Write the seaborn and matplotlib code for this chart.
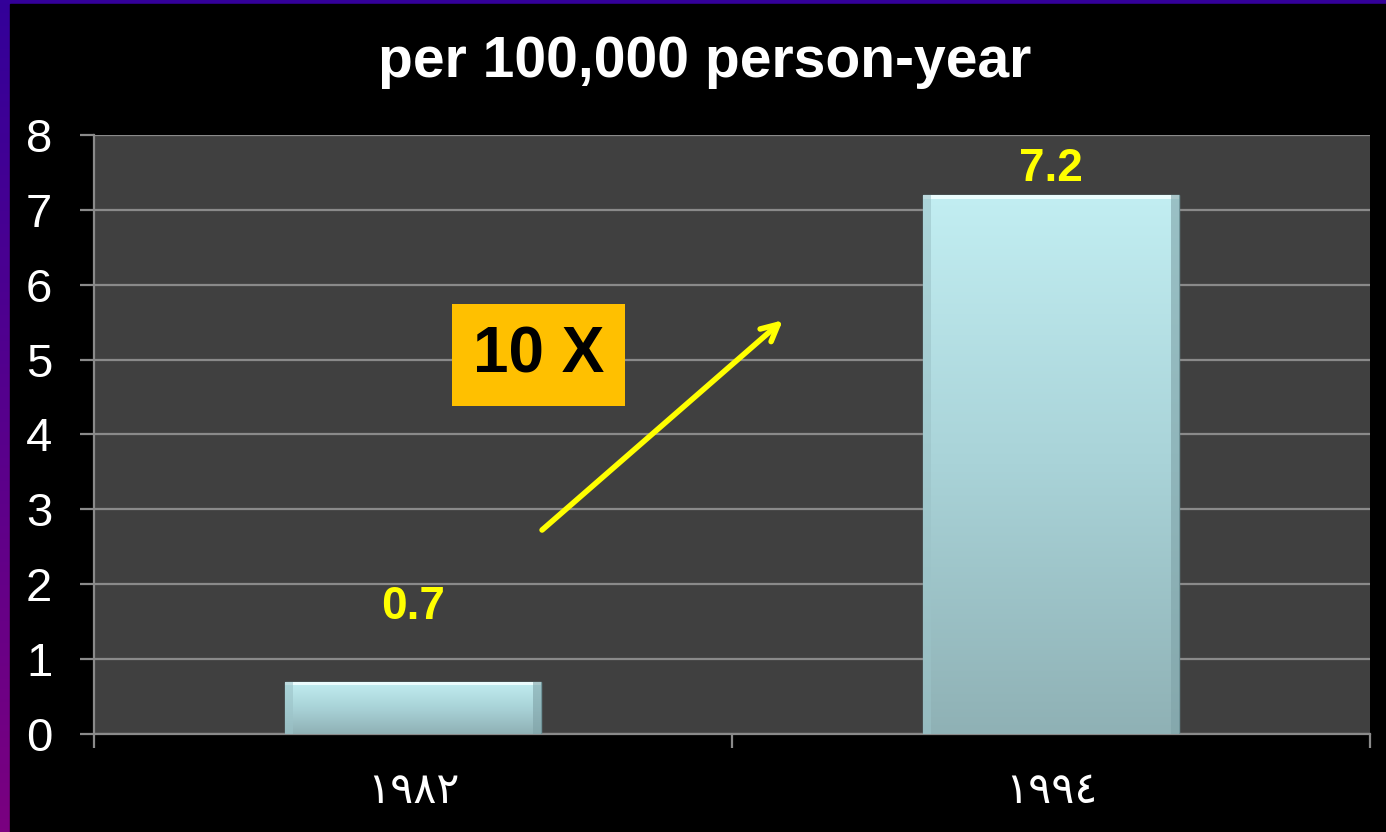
import numpy as np
import matplotlib
matplotlib.use("Agg")
import matplotlib.pyplot as plt
import matplotlib.colors as mcolors
from matplotlib.patches import Rectangle, FancyArrowPatch
import seaborn as sns
import pandas as pd

# ---- data ----
years = ["١٩٨٢", "١٩٩٤"]
rates = [0.7, 7.2]
rate_labels = ["0.7", "7.2"]
y_ticks = [0, 1, 2, 3, 4, 5, 6, 7, 8]
title_text = "per 100,000 person-year"
callout_text = "10 X"

sns.set_theme(style="dark")
plt.rcParams['font.family'] = ['Liberation Sans', 'DejaVu Sans']

W, H = 1386, 832
fig = plt.figure(figsize=(W / 100, H / 100), dpi=100, facecolor="black")

# background with purple gradient frame
bg = fig.add_axes([0, 0, 1, 1], zorder=-10)
bg.set_axis_off()
grad = np.linspace(0, 1, 256).reshape(-1, 1)
cmap_bg = mcolors.LinearSegmentedColormap.from_list("bg", ["#330099", "#7a0080"])
bg.imshow(grad, aspect="auto", cmap=cmap_bg, extent=[0, 1, 0, 1], origin="upper")
bg.add_patch(Rectangle((10 / W, 0), 1 - 10 / W, 1 - 4 / H, color="black", transform=bg.transAxes))
bg.set_xlim(0, 1)
bg.set_ylim(0, 1)

ax = fig.add_axes([94 / W, (H - 734) / H, (1370 - 94) / W, (734 - 135) / H])
ax.set_facecolor("#404040")

df = pd.DataFrame({"year": years, "rate": rates})
sns.barplot(data=df, x="year", y="rate", width=0.4, color="#b0dde2",
            edgecolor="#6f9398", linewidth=1.0, ax=ax, zorder=3, saturation=1)

ax.set_xlim(-0.5, 1.5)
ax.set_ylim(0, 8)
ax.set_yticks(y_ticks)
ax.grid(axis="y", color="#8a8a8a", linewidth=1.6, zorder=1)
ax.grid(axis="x", visible=False)
ax.set_axisbelow(True)

# gradient fill for bars
cmap_bar = mcolors.LinearSegmentedColormap.from_list("bar", ["#8fb1b5", "#a9d3d8", "#c2eef2"])
for p in ax.patches:
    x0, y0 = p.get_x(), p.get_y()
    w, h = p.get_width(), p.get_height()
    img = ax.imshow(np.linspace(0, 1, 256).reshape(-1, 1), cmap=cmap_bar, origin="lower",
                    extent=[x0, x0 + w, y0, y0 + h], aspect="auto", zorder=4)
    img.set_clip_path(p)
    # bevel edges
    ax.add_patch(Rectangle((x0, y0 + h - 0.05), w, 0.05, color="#eafcfd", zorder=5, linewidth=0))
    ax.add_patch(Rectangle((x0, y0), 0.012, h, color="#9cc3c8", alpha=0.6, zorder=5, linewidth=0))
    ax.add_patch(Rectangle((x0 + w - 0.012, y0), 0.012, h, color="#7fa2a7", alpha=0.6, zorder=5, linewidth=0))
ax.set_aspect("auto")
ax.set_xlim(-0.5, 1.5)
ax.set_ylim(0, 8)

for s in ["top", "right"]:
    ax.spines[s].set_visible(False)
for s in ["left", "bottom"]:
    ax.spines[s].set_visible(True)
    ax.spines[s].set_color("#8a8a8a")
    ax.spines[s].set_linewidth(1.6)

ax.tick_params(axis="y", colors="#8a8a8a", labelcolor="white", labelsize=34,
               length=10, width=1.6, pad=20, left=True, direction="out")
ax.set_xticks([0, 1])
ax.set_xticklabels(years, fontsize=31, color="white", family=["DejaVu Sans"])
ax.tick_params(axis="x", length=0, pad=26)
ax.set_xticks([-0.5, 0.5, 1.5], minor=True)
ax.tick_params(axis="x", which="minor", length=10, width=1.6, color="#8a8a8a", bottom=True, direction="out")
ax.set_xlabel("")
ax.set_ylabel("")

# value labels
ax.text(0, 1.70, rate_labels[0], color="yellow", fontsize=33, fontweight="bold",
        ha="center", va="center", zorder=6)
ax.text(1, 7.55, rate_labels[1], color="yellow", fontsize=33, fontweight="bold",
        ha="center", va="center", zorder=6)

# callout box
ax.text(0.197, 5.06, callout_text, color="black", fontsize=46, fontweight="bold",
        ha="center", va="center", zorder=6,
        bbox=dict(boxstyle="square,pad=0.33", facecolor="#ffc000", edgecolor="none"))

arrow = FancyArrowPatch((0.199, 2.70), (0.583, 5.55), arrowstyle="->,head_length=12,head_width=6",
                        color="yellow", linewidth=4, zorder=6, mutation_scale=1)
ax.add_patch(arrow)

fig.text(705 / W, 1 - 62 / H, title_text, color="white", fontsize=41, fontweight="bold",
         ha="center", va="center")

fig.savefig("out.png", dpi=100, facecolor="black")
